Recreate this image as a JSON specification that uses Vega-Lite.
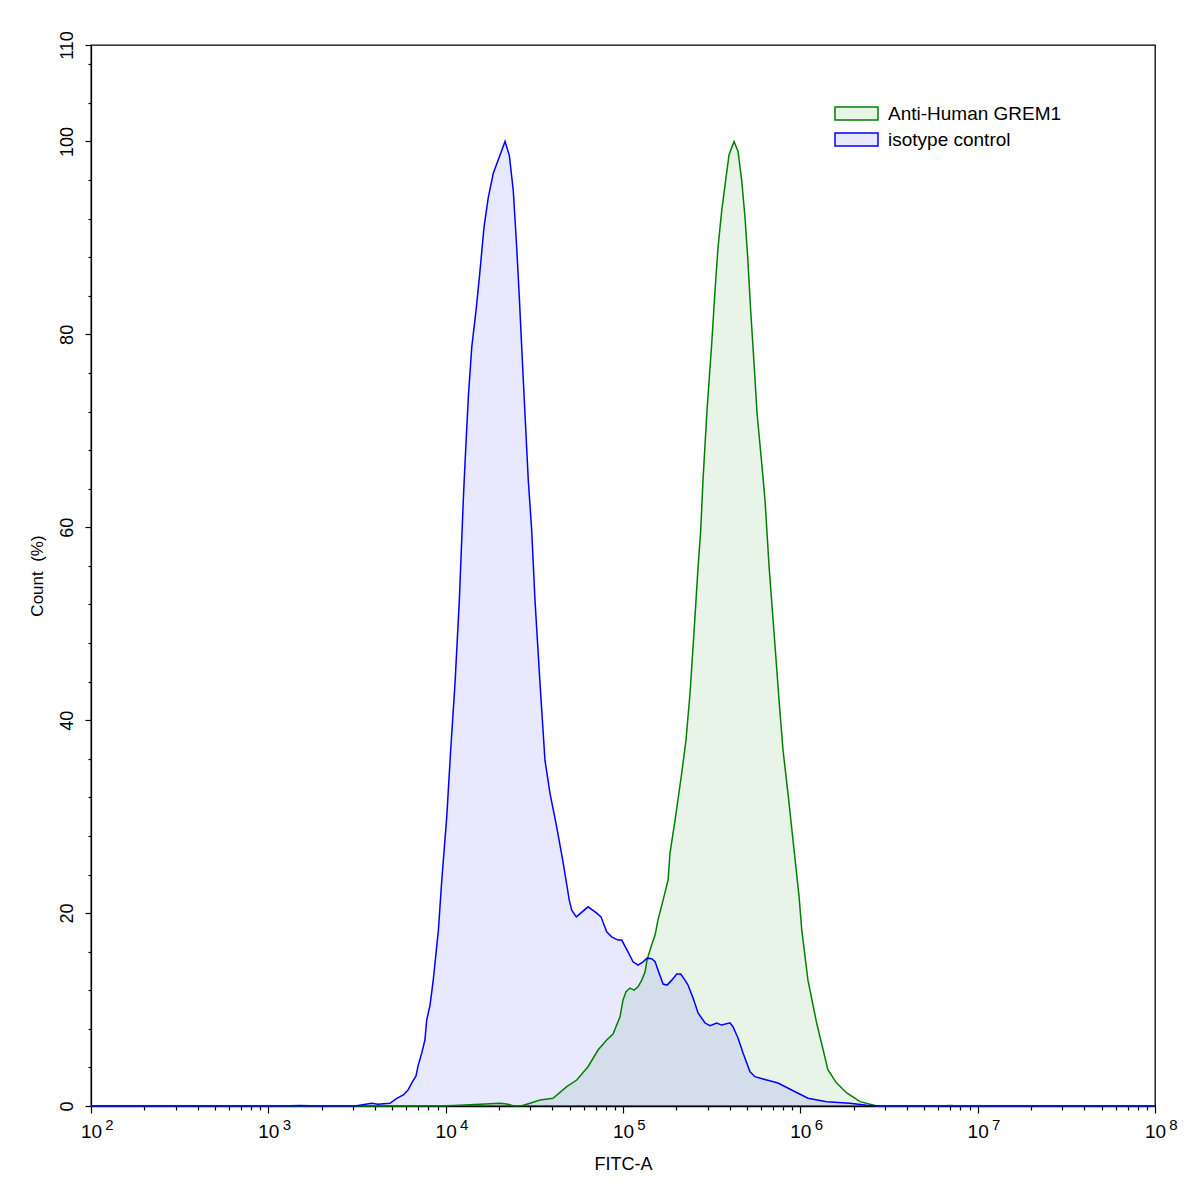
{
  "$schema": "https://vega.github.io/schema/vega-lite/v6.json",
  "width": 1064,
  "height": 1061,
  "autosize": {"type": "none"},
  "padding": {"left": 91, "top": 45, "right": 42, "bottom": 87},
  "background": "white",
  "config": {
    "view": {"stroke": "black", "strokeWidth": 1.3},
    "font": "Liberation Sans",
    "axis": {
      "grid": false,
      "domainColor": "black",
      "domainWidth": 1.3,
      "tickColor": "black",
      "tickWidth": 1.2,
      "labelColor": "black",
      "titleColor": "black",
      "labelFont": "Liberation Sans",
      "titleFont": "Liberation Sans",
      "labelFontWeight": "normal",
      "titleFontWeight": "normal",
      "labelFlush": false,
      "labelOverlap": false,
      "labelBound": false
    }
  },
  "datasets": {
    "curves": [
      {"series": "Anti-Human GREM1", "fitc": 100, "count": 0},
      {"series": "Anti-Human GREM1", "fitc": 9290, "count": 0},
      {"series": "Anti-Human GREM1", "fitc": 12050, "count": 0.07},
      {"series": "Anti-Human GREM1", "fitc": 15620, "count": 0.18},
      {"series": "Anti-Human GREM1", "fitc": 20240, "count": 0.28},
      {"series": "Anti-Human GREM1", "fitc": 22080, "count": 0.21},
      {"series": "Anti-Human GREM1", "fitc": 23970, "count": 0.03},
      {"series": "Anti-Human GREM1", "fitc": 26840, "count": 0.03},
      {"series": "Anti-Human GREM1", "fitc": 29900, "count": 0.28},
      {"series": "Anti-Human GREM1", "fitc": 34040, "count": 0.62},
      {"series": "Anti-Human GREM1", "fitc": 40290, "count": 0.8},
      {"series": "Anti-Human GREM1", "fitc": 48170, "count": 2.0},
      {"series": "Anti-Human GREM1", "fitc": 54830, "count": 2.69},
      {"series": "Anti-Human GREM1", "fitc": 63510, "count": 4.07},
      {"series": "Anti-Human GREM1", "fitc": 72310, "count": 5.8},
      {"series": "Anti-Human GREM1", "fitc": 80910, "count": 6.84},
      {"series": "Anti-Human GREM1", "fitc": 87880, "count": 7.46},
      {"series": "Anti-Human GREM1", "fitc": 96190, "count": 9.25},
      {"series": "Anti-Human GREM1", "fitc": 100000, "count": 10.98},
      {"series": "Anti-Human GREM1", "fitc": 104000, "count": 11.84},
      {"series": "Anti-Human GREM1", "fitc": 109600, "count": 12.23},
      {"series": "Anti-Human GREM1", "fitc": 115400, "count": 12.02},
      {"series": "Anti-Human GREM1", "fitc": 121600, "count": 12.36},
      {"series": "Anti-Human GREM1", "fitc": 127600, "count": 13.05},
      {"series": "Anti-Human GREM1", "fitc": 133200, "count": 13.91},
      {"series": "Anti-Human GREM1", "fitc": 136600, "count": 15.13},
      {"series": "Anti-Human GREM1", "fitc": 143900, "count": 16.5},
      {"series": "Anti-Human GREM1", "fitc": 151700, "count": 17.72},
      {"series": "Anti-Human GREM1", "fitc": 157400, "count": 19.27},
      {"series": "Anti-Human GREM1", "fitc": 168300, "count": 21.34},
      {"series": "Anti-Human GREM1", "fitc": 179500, "count": 23.41},
      {"series": "Anti-Human GREM1", "fitc": 184100, "count": 26.21},
      {"series": "Anti-Human GREM1", "fitc": 196600, "count": 29.63},
      {"series": "Anti-Human GREM1", "fitc": 214300, "count": 34.5},
      {"series": "Anti-Human GREM1", "fitc": 226500, "count": 37.92},
      {"series": "Anti-Human GREM1", "fitc": 238800, "count": 42.79},
      {"series": "Anti-Human GREM1", "fitc": 251200, "count": 49.01},
      {"series": "Anti-Human GREM1", "fitc": 265000, "count": 55.87},
      {"series": "Anti-Human GREM1", "fitc": 274300, "count": 59.68},
      {"series": "Anti-Human GREM1", "fitc": 282500, "count": 64.86},
      {"series": "Anti-Human GREM1", "fitc": 297600, "count": 72.11},
      {"series": "Anti-Human GREM1", "fitc": 316500, "count": 79.05},
      {"series": "Anti-Human GREM1", "fitc": 330300, "count": 84.54},
      {"series": "Anti-Human GREM1", "fitc": 343500, "count": 89.03},
      {"series": "Anti-Human GREM1", "fitc": 360300, "count": 92.83},
      {"series": "Anti-Human GREM1", "fitc": 381100, "count": 96.28},
      {"series": "Anti-Human GREM1", "fitc": 396300, "count": 98.63},
      {"series": "Anti-Human GREM1", "fitc": 423000, "count": 100},
      {"series": "Anti-Human GREM1", "fitc": 445300, "count": 98.97},
      {"series": "Anti-Human GREM1", "fitc": 467200, "count": 95.94},
      {"series": "Anti-Human GREM1", "fitc": 487500, "count": 92.14},
      {"series": "Anti-Human GREM1", "fitc": 504900, "count": 87.99},
      {"series": "Anti-Human GREM1", "fitc": 524800, "count": 82.47},
      {"series": "Anti-Human GREM1", "fitc": 548300, "count": 76.98},
      {"series": "Anti-Human GREM1", "fitc": 570200, "count": 71.8},
      {"series": "Anti-Human GREM1", "fitc": 605800, "count": 66.62},
      {"series": "Anti-Human GREM1", "fitc": 632400, "count": 62.79},
      {"series": "Anti-Human GREM1", "fitc": 666800, "count": 55.87},
      {"series": "Anti-Human GREM1", "fitc": 711200, "count": 49.01},
      {"series": "Anti-Human GREM1", "fitc": 758600, "count": 42.06},
      {"series": "Anti-Human GREM1", "fitc": 798700, "count": 36.88},
      {"series": "Anti-Human GREM1", "fitc": 851700, "count": 32.43},
      {"series": "Anti-Human GREM1", "fitc": 909300, "count": 27.56},
      {"series": "Anti-Human GREM1", "fitc": 984000, "count": 21.68},
      {"series": "Anti-Human GREM1", "fitc": 1019000, "count": 18.23},
      {"series": "Anti-Human GREM1", "fitc": 1104000, "count": 13.05},
      {"series": "Anti-Human GREM1", "fitc": 1236000, "count": 8.6},
      {"series": "Anti-Human GREM1", "fitc": 1432000, "count": 3.73},
      {"series": "Anti-Human GREM1", "fitc": 1603000, "count": 2.38},
      {"series": "Anti-Human GREM1", "fitc": 1827000, "count": 1.35},
      {"series": "Anti-Human GREM1", "fitc": 2173000, "count": 0.45},
      {"series": "Anti-Human GREM1", "fitc": 2698000, "count": 0},
      {"series": "Anti-Human GREM1", "fitc": 6138000, "count": 0},
      {"series": "Anti-Human GREM1", "fitc": 6982000, "count": 0.05},
      {"series": "Anti-Human GREM1", "fitc": 7943000, "count": 0},
      {"series": "Anti-Human GREM1", "fitc": 100000000, "count": 0},
      {"series": "isotype control", "fitc": 100, "count": 0},
      {"series": "isotype control", "fitc": 1164, "count": 0},
      {"series": "isotype control", "fitc": 1510, "count": 0.05},
      {"series": "isotype control", "fitc": 1955, "count": 0},
      {"series": "isotype control", "fitc": 3148, "count": 0.03},
      {"series": "isotype control", "fitc": 3828, "count": 0.28},
      {"series": "isotype control", "fitc": 4150, "count": 0.18},
      {"series": "isotype control", "fitc": 4853, "count": 0.28},
      {"series": "isotype control", "fitc": 5297, "count": 0.8},
      {"series": "isotype control", "fitc": 5770, "count": 1.14},
      {"series": "isotype control", "fitc": 6134, "count": 1.66},
      {"series": "isotype control", "fitc": 6430, "count": 2.38},
      {"series": "isotype control", "fitc": 6803, "count": 3.11},
      {"series": "isotype control", "fitc": 6982, "count": 4.14},
      {"series": "isotype control", "fitc": 7328, "count": 5.49},
      {"series": "isotype control", "fitc": 7638, "count": 6.84},
      {"series": "isotype control", "fitc": 7816, "count": 8.91},
      {"series": "isotype control", "fitc": 8163, "count": 10.46},
      {"series": "isotype control", "fitc": 8511, "count": 13.05},
      {"series": "isotype control", "fitc": 9099, "count": 18.23},
      {"series": "isotype control", "fitc": 9506, "count": 23.41},
      {"series": "isotype control", "fitc": 10140, "count": 29.97},
      {"series": "isotype control", "fitc": 10670, "count": 36.88},
      {"series": "isotype control", "fitc": 11290, "count": 43.82},
      {"series": "isotype control", "fitc": 11940, "count": 52.42},
      {"series": "isotype control", "fitc": 12570, "count": 62.79},
      {"series": "isotype control", "fitc": 12850, "count": 66.62},
      {"series": "isotype control", "fitc": 13420, "count": 73.49},
      {"series": "isotype control", "fitc": 14030, "count": 78.67},
      {"series": "isotype control", "fitc": 14830, "count": 82.47},
      {"series": "isotype control", "fitc": 15620, "count": 86.61},
      {"series": "isotype control", "fitc": 16450, "count": 91.1},
      {"series": "isotype control", "fitc": 17390, "count": 94.21},
      {"series": "isotype control", "fitc": 18560, "count": 96.7},
      {"series": "isotype control", "fitc": 21620, "count": 100},
      {"series": "isotype control", "fitc": 22860, "count": 98.53},
      {"series": "isotype control", "fitc": 24060, "count": 94.9},
      {"series": "isotype control", "fitc": 25150, "count": 89.03},
      {"series": "isotype control", "fitc": 26020, "count": 83.85},
      {"series": "isotype control", "fitc": 26840, "count": 78.67},
      {"series": "isotype control", "fitc": 28000, "count": 71.8},
      {"series": "isotype control", "fitc": 29240, "count": 64.86},
      {"series": "isotype control", "fitc": 30560, "count": 59.68},
      {"series": "isotype control", "fitc": 31900, "count": 52.42},
      {"series": "isotype control", "fitc": 34040, "count": 43.82},
      {"series": "isotype control", "fitc": 36310, "count": 35.85},
      {"series": "isotype control", "fitc": 38740, "count": 32.43},
      {"series": "isotype control", "fitc": 42270, "count": 28.94},
      {"series": "isotype control", "fitc": 46030, "count": 25.18},
      {"series": "isotype control", "fitc": 49770, "count": 21.34},
      {"series": "isotype control", "fitc": 51370, "count": 20.31},
      {"series": "isotype control", "fitc": 54540, "count": 19.61},
      {"series": "isotype control", "fitc": 63510, "count": 20.65},
      {"series": "isotype control", "fitc": 71120, "count": 20.0},
      {"series": "isotype control", "fitc": 75170, "count": 19.61},
      {"series": "isotype control", "fitc": 80910, "count": 18.06},
      {"series": "isotype control", "fitc": 86340, "count": 17.54},
      {"series": "isotype control", "fitc": 93690, "count": 17.2},
      {"series": "isotype control", "fitc": 98370, "count": 17.2},
      {"series": "isotype control", "fitc": 105400, "count": 16.16},
      {"series": "isotype control", "fitc": 114000, "count": 14.95},
      {"series": "isotype control", "fitc": 121600, "count": 14.61},
      {"series": "isotype control", "fitc": 129800, "count": 14.95},
      {"series": "isotype control", "fitc": 136700, "count": 15.33},
      {"series": "isotype control", "fitc": 145300, "count": 15.26},
      {"series": "isotype control", "fitc": 151700, "count": 14.95},
      {"series": "isotype control", "fitc": 159700, "count": 13.78},
      {"series": "isotype control", "fitc": 168300, "count": 12.64},
      {"series": "isotype control", "fitc": 177200, "count": 12.54},
      {"series": "isotype control", "fitc": 188300, "count": 13.05},
      {"series": "isotype control", "fitc": 201000, "count": 13.68},
      {"series": "isotype control", "fitc": 211500, "count": 13.68},
      {"series": "isotype control", "fitc": 223700, "count": 13.05},
      {"series": "isotype control", "fitc": 232600, "count": 12.54},
      {"series": "isotype control", "fitc": 248400, "count": 11.19},
      {"series": "isotype control", "fitc": 265000, "count": 9.64},
      {"series": "isotype control", "fitc": 290300, "count": 8.6},
      {"series": "isotype control", "fitc": 309700, "count": 8.32},
      {"series": "isotype control", "fitc": 337600, "count": 8.6},
      {"series": "isotype control", "fitc": 360300, "count": 8.39},
      {"series": "isotype control", "fitc": 401000, "count": 8.63},
      {"series": "isotype control", "fitc": 416900, "count": 8.22},
      {"series": "isotype control", "fitc": 445300, "count": 7.05},
      {"series": "isotype control", "fitc": 475300, "count": 5.49},
      {"series": "isotype control", "fitc": 520400, "count": 3.55},
      {"series": "isotype control", "fitc": 555000, "count": 3.04},
      {"series": "isotype control", "fitc": 616500, "count": 2.8},
      {"series": "isotype control", "fitc": 748200, "count": 2.38},
      {"series": "isotype control", "fitc": 893700, "count": 1.66},
      {"series": "isotype control", "fitc": 1104000, "count": 0.8},
      {"series": "isotype control", "fitc": 1408000, "count": 0.45},
      {"series": "isotype control", "fitc": 1906000, "count": 0.28},
      {"series": "isotype control", "fitc": 2366000, "count": 0.07},
      {"series": "isotype control", "fitc": 2812000, "count": 0},
      {"series": "isotype control", "fitc": 100000000, "count": 0}
    ]
  },
  "data": {"name": "curves"},
  "layer": [
    {
      "transform": [{"filter": "datum.series === 'Anti-Human GREM1'"}],
      "mark": {"type": "area", "opacity": 1, "interpolate": "linear"},
      "encoding": {
        "x": {
          "field": "fitc", "type": "quantitative",
          "scale": {"type": "log", "domain": [100, 100000000], "nice": false},
          "axis": {
            "orient": "bottom",
            "title": "FITC-A", "titleFontSize": 18, "titlePadding": 14,
            "values": [100, 1000, 10000, 100000, 1000000, 10000000, 100000000],
            "labelExpr": "'10'", "labelFontSize": 19, "labelPadding": 9, "tickSize": 7
          }
        },
        "y": {
          "field": "count", "type": "quantitative",
          "scale": {"domain": [0, 110], "nice": false},
          "axis": {
            "orient": "left",
            "title": "Count\u00a0 (%)", "titleFontSize": 17, "titlePadding": 12,
            "values": [0, 20, 40, 60, 80, 100, 110],
            "labelAngle": -90, "labelAlign": "center", "labelBaseline": "bottom",
            "labelFontSize": 18, "labelPadding": 9, "tickSize": 6
          }
        },
        "fill": {
          "field": "series", "type": "nominal",
          "scale": {"domain": ["Anti-Human GREM1", "isotype control"], "range": ["rgba(0,128,0,0.09)", "rgba(0,0,255,0.09)"]},
          "legend": {
            "orient": "none", "legendX": 754, "legendY": 57, "title": null,
            "symbolType": "M-2,-0.6H2V0.6H-2Z", "symbolSize": 462,
            "labelFontSize": 19, "labelFont": "Liberation Sans", "labelColor": "black",
            "labelLimit": 0, "labelOffset": 20, "rowPadding": 4,
            "encode": {
              "symbols": {
                "update": {
                  "stroke": {"scale": "stroke", "field": "value"},
                  "strokeWidth": {"value": 1.5},
                  "opacity": {"value": 1}
                }
              }
            }
          }
        }
      }
    },
    {
      "transform": [{"filter": "datum.series === 'isotype control'"}],
      "mark": {"type": "area", "opacity": 1, "interpolate": "linear"},
      "encoding": {
        "x": {
          "field": "fitc", "type": "quantitative",
          "axis": {
            "orient": "bottom",
            "title": null, "domain": false, "ticks": false, "tickSize": 0,
            "values": [100, 1000, 10000, 100000, 1000000, 10000000, 100000000],
            "labelExpr": "'' + round(log(datum.value) / LN10)",
            "labelFontSize": 15, "labelPadding": 11, "labelOffset": 18
          }
        },
        "y": {
          "field": "count", "type": "quantitative",
          "axis": {
            "orient": "left",
            "title": null, "domain": false, "labels": false, "tickSize": 3,
            "values": [4, 8, 12, 16, 24, 28, 32, 36, 44, 48, 52, 56, 64, 68, 72, 76, 84, 88, 92, 96, 104, 108]
          }
        },
        "fill": {"field": "series", "type": "nominal"}
      }
    },
    {
      "transform": [{"filter": "datum.series === 'Anti-Human GREM1'"}],
      "mark": {"type": "line", "strokeWidth": 1.5, "interpolate": "linear"},
      "encoding": {
        "x": {
          "field": "fitc", "type": "quantitative",
          "axis": {
            "orient": "bottom",
            "title": null, "domain": false, "labels": false, "tickSize": 4,
            "values": [200, 300, 400, 500, 600, 700, 800, 900,
                       2000, 3000, 4000, 5000, 6000, 7000, 8000, 9000,
                       20000, 30000, 40000, 50000, 60000, 70000, 80000, 90000,
                       200000, 300000, 400000, 500000, 600000, 700000, 800000, 900000,
                       2000000, 3000000, 4000000, 5000000, 6000000, 7000000, 8000000, 9000000,
                       20000000, 30000000, 40000000, 50000000, 60000000, 70000000, 80000000, 90000000]
          }
        },
        "y": {"field": "count", "type": "quantitative", "axis": null},
        "stroke": {
          "field": "series", "type": "nominal",
          "scale": {"domain": ["Anti-Human GREM1", "isotype control"], "range": ["#008000", "#0000FF"]},
          "legend": null
        }
      }
    },
    {
      "transform": [{"filter": "datum.series === 'isotype control'"}],
      "mark": {"type": "line", "strokeWidth": 1.5, "interpolate": "linear"},
      "encoding": {
        "x": {"field": "fitc", "type": "quantitative", "axis": null},
        "y": {"field": "count", "type": "quantitative", "axis": null},
        "stroke": {"field": "series", "type": "nominal", "legend": null}
      }
    }
  ],
  "resolve": {"axis": {"x": "independent", "y": "independent"}}
}
